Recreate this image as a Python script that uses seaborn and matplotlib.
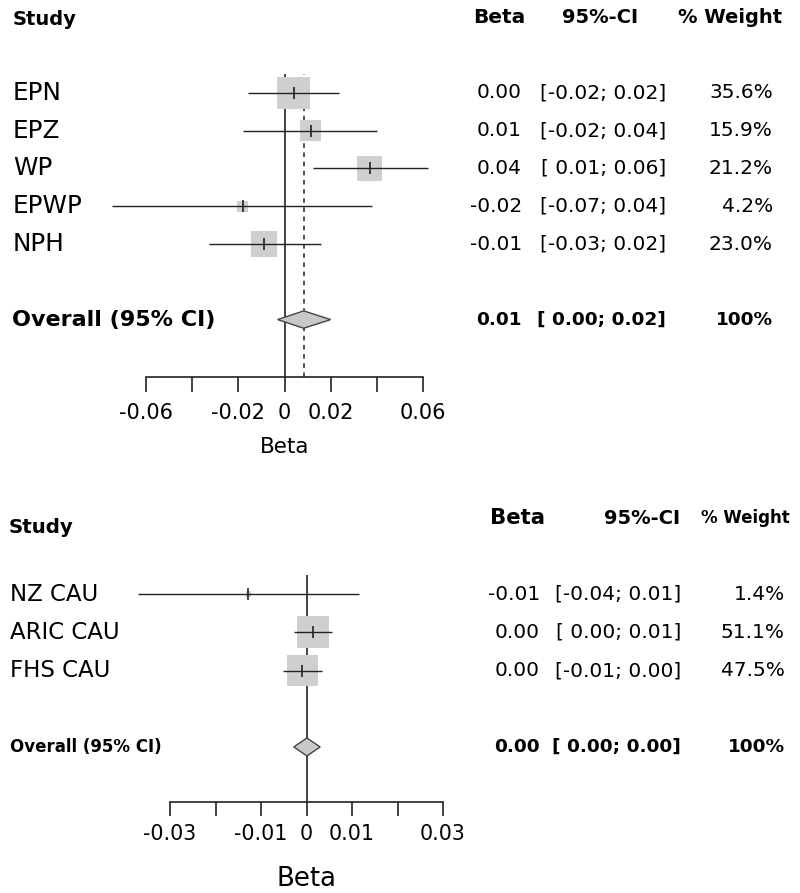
import numpy as np
import pandas as pd
import matplotlib
matplotlib.use("Agg")
import matplotlib.pyplot as plt
import matplotlib.transforms as mtransforms
from matplotlib.patches import Polygon
import seaborn as sns

# ---- data: panel 1 ----
studies1 = ["EPN", "EPZ", "WP", "EPWP", "NPH"]
beta1 = [0.0039, 0.0113, 0.0370, -0.0180, -0.0087]
lo1 = [-0.0157, -0.0178, 0.0122, -0.0748, -0.0326]
hi1 = [0.0235, 0.0400, 0.0622, 0.0380, 0.0157]
weight1 = [35.6, 15.9, 21.2, 4.2, 23.0]
beta_txt1 = ["0.00", "0.01", "0.04", "-0.02", "-0.01"]
ci_txt1 = ["[-0.02; 0.02]", "[-0.02; 0.04]", "[ 0.01; 0.06]", "[-0.07; 0.04]", "[-0.03; 0.02]"]
wt_txt1 = ["35.6%", "15.9%", "21.2%", "4.2%", "23.0%"]
overall1 = (0.0083, -0.0030, 0.0200)
overall_txt1 = ["0.01", "[ 0.00; 0.02]", "100%"]
ticks1 = [-0.06, -0.04, -0.02, 0, 0.02, 0.04, 0.06]
ticklabels1 = ["-0.06", "", "-0.02", "0", "0.02", "", "0.06"]

# ---- data: panel 2 ----
studies2 = ["NZ CAU", "ARIC CAU", "FHS CAU"]
beta2 = [-0.0128, 0.0014, -0.0009]
lo2 = [-0.0371, -0.0027, -0.0052]
hi2 = [0.0115, 0.0056, 0.0033]
weight2 = [1.4, 51.1, 47.5]
beta_txt2 = ["-0.01", "0.00", "0.00"]
ci_txt2 = ["[-0.04; 0.01]", "[ 0.00; 0.01]", "[-0.01; 0.00]"]
wt_txt2 = ["1.4%", "51.1%", "47.5%"]
overall2 = (0.0001, -0.0028, 0.0030)
overall_txt2 = ["0.00", "[ 0.00; 0.00]", "100%"]
ticks2 = [-0.03, -0.02, -0.01, 0, 0.01, 0.02, 0.03]
ticklabels2 = ["-0.03", "", "-0.01", "0", "0.01", "", "0.03"]

sns.set_style("white")
plt.rcParams["font.family"] = ["DejaVu Sans"]
plt.rcParams["text.color"] = "black"
plt.rcParams["axes.labelcolor"] = "black"
plt.rcParams["xtick.color"] = "black"

W, H = 800, 893
fig = plt.figure(figsize=(W / 100, H / 100), dpi=100)

SQ_COL = "#cfcfcf"
LINE_COL = "#222222"


def px(x):
    return x / W


def forest(ax, studies, beta, lo, hi, weight, overall, ticks, ticklabels, xlim,
           sq_scale, show_dashed, diamond_h):
    n = len(studies)
    df = pd.DataFrame({"study": studies, "beta": beta, "lo": lo, "hi": hi,
                       "weight": weight, "row": np.arange(n)})
    orow = n + 1
    est, olo, ohi = overall

    # reference lines
    ax.axvline(0, color=LINE_COL, lw=1.2, zorder=1)
    if show_dashed:
        ax.axvline(est, color=LINE_COL, lw=1.1, ls=(0, (3, 3)), zorder=1)

    # weight squares (side ~ sqrt(weight))
    side_pt = sq_scale * np.sqrt(df["weight"]) * 0.72
    sns.scatterplot(data=df, x="beta", y="row", marker="s", s=side_pt ** 2,
                    color=SQ_COL, linewidth=0, ax=ax, zorder=2, legend=False)

    # CIs and point marks
    ax.hlines(df["row"], df["lo"], df["hi"], color=LINE_COL, lw=1.0, zorder=3,
              clip_on=False)
    ax.plot(df["beta"], df["row"], "|", ms=8, mew=1.2, color=LINE_COL, zorder=4)

    # overall diamond
    diamond = Polygon([(olo, orow), (est, orow - diamond_h), (ohi, orow),
                       (est, orow + diamond_h)], closed=True,
                      facecolor="#c8c8c8", edgecolor="#444444", lw=1.0, zorder=3)
    ax.add_patch(diamond)

    ax.set_xlim(*xlim)
    ax.set_xticks(ticks)
    ax.set_xticklabels(ticklabels)
    ax.set_yticks([])
    ax.set_ylabel("")
    sns.despine(ax=ax, left=True, top=True, right=True)
    ax.spines["bottom"].set_color(LINE_COL)
    ax.spines["bottom"].set_linewidth(1.2)
    ax.tick_params(axis="x", direction="out", length=10.5, width=1.2,
                   color=LINE_COL, bottom=True)
    return orow


# ---------- top panel ----------
ax1 = fig.add_axes([px(146), (H - 377) / H, px(277), 303 / H])
ax1.set_ylim(7.52, -0.50)
orow1 = forest(ax1, studies1, beta1, lo1, hi1, weight1, overall1, ticks1,
               ticklabels1, (-0.06, 0.06), 5.4, True, 0.23)
ax1.tick_params(axis="x", labelsize=15, pad=8)
ax1.set_xlabel("Beta", fontsize=15.5, labelpad=10)

t1 = mtransforms.blended_transform_factory(fig.transFigure, ax1.transData)
ax1.text(px(13), -1.93, "Study", transform=t1, fontsize=14, fontweight="bold",
         ha="left", va="center")
ax1.text(px(525), -1.99, "Beta", transform=t1, fontsize=14.5, fontweight="bold",
         ha="right", va="center")
ax1.text(px(600), -1.99, "95%-CI", transform=t1, fontsize=14, fontweight="bold",
         ha="center", va="center")
ax1.text(px(782), -1.99, "% Weight", transform=t1, fontsize=14, fontweight="bold",
         ha="right", va="center")
for i, name in enumerate(studies1):
    ax1.text(px(13), i, name, transform=t1, fontsize=17.8, ha="left", va="center")
    ax1.text(px(522), i, beta_txt1[i], transform=t1, fontsize=14.5, ha="right", va="center")
    ax1.text(px(666), i, ci_txt1[i], transform=t1, fontsize=14.5, ha="right", va="center")
    ax1.text(px(773), i, wt_txt1[i], transform=t1, fontsize=14.5, ha="right", va="center")
ax1.text(px(12), orow1, "Overall (95% CI)", transform=t1, fontsize=16,
         fontweight="bold", ha="left", va="center")
for xx, s in zip([522, 666, 773], overall_txt1):
    ax1.text(px(xx), orow1, s, transform=t1, fontsize=13.3, fontweight="bold",
             ha="right", va="center")

# ---------- bottom panel ----------
ax2 = fig.add_axes([px(170), (H - 802) / H, px(273), 227 / H])
ax2.set_ylim(5.44, -0.50)
orow2 = forest(ax2, studies2, beta2, lo2, hi2, weight2, overall2, ticks2,
               ticklabels2, (-0.03, 0.03), 4.5, False, 0.235)
ax2.tick_params(axis="x", labelsize=14.8, pad=6, length=10)
ax2.set_xlabel("Beta", fontsize=18.7, labelpad=16)

t2 = mtransforms.blended_transform_factory(fig.transFigure, ax2.transData)
ax2.text(px(9), -1.75, "Study", transform=t2, fontsize=14.2, fontweight="bold",
         ha="left", va="center")
ax2.text(px(545), -1.99, "Beta", transform=t2, fontsize=15.3, fontweight="bold",
         ha="right", va="center")
ax2.text(px(680), -1.99, "95%-CI", transform=t2, fontsize=14, fontweight="bold",
         ha="right", va="center")
ax2.text(px(790), -1.99, "% Weight", transform=t2, fontsize=12, fontweight="bold",
         ha="right", va="center")
for i, name in enumerate(studies2):
    ax2.text(px(10), i, name, transform=t2, fontsize=16.5, ha="left", va="center")
    ax2.text(px(540), i, beta_txt2[i], transform=t2, fontsize=14.5, ha="right", va="center")
    ax2.text(px(681), i, ci_txt2[i], transform=t2, fontsize=14.5, ha="right", va="center")
    ax2.text(px(785), i, wt_txt2[i], transform=t2, fontsize=14.5, ha="right", va="center")
ax2.text(px(10), orow2, "Overall (95% CI)", transform=t2, fontsize=13.3,
         fontweight="bold", fontstretch="condensed", ha="left", va="center")
for xx, s in zip([540, 681, 785], overall_txt2):
    ax2.text(px(xx), orow2, s, transform=t2, fontsize=13.3, fontweight="bold",
             ha="right", va="center")

fig.savefig("out.png", dpi=100)
